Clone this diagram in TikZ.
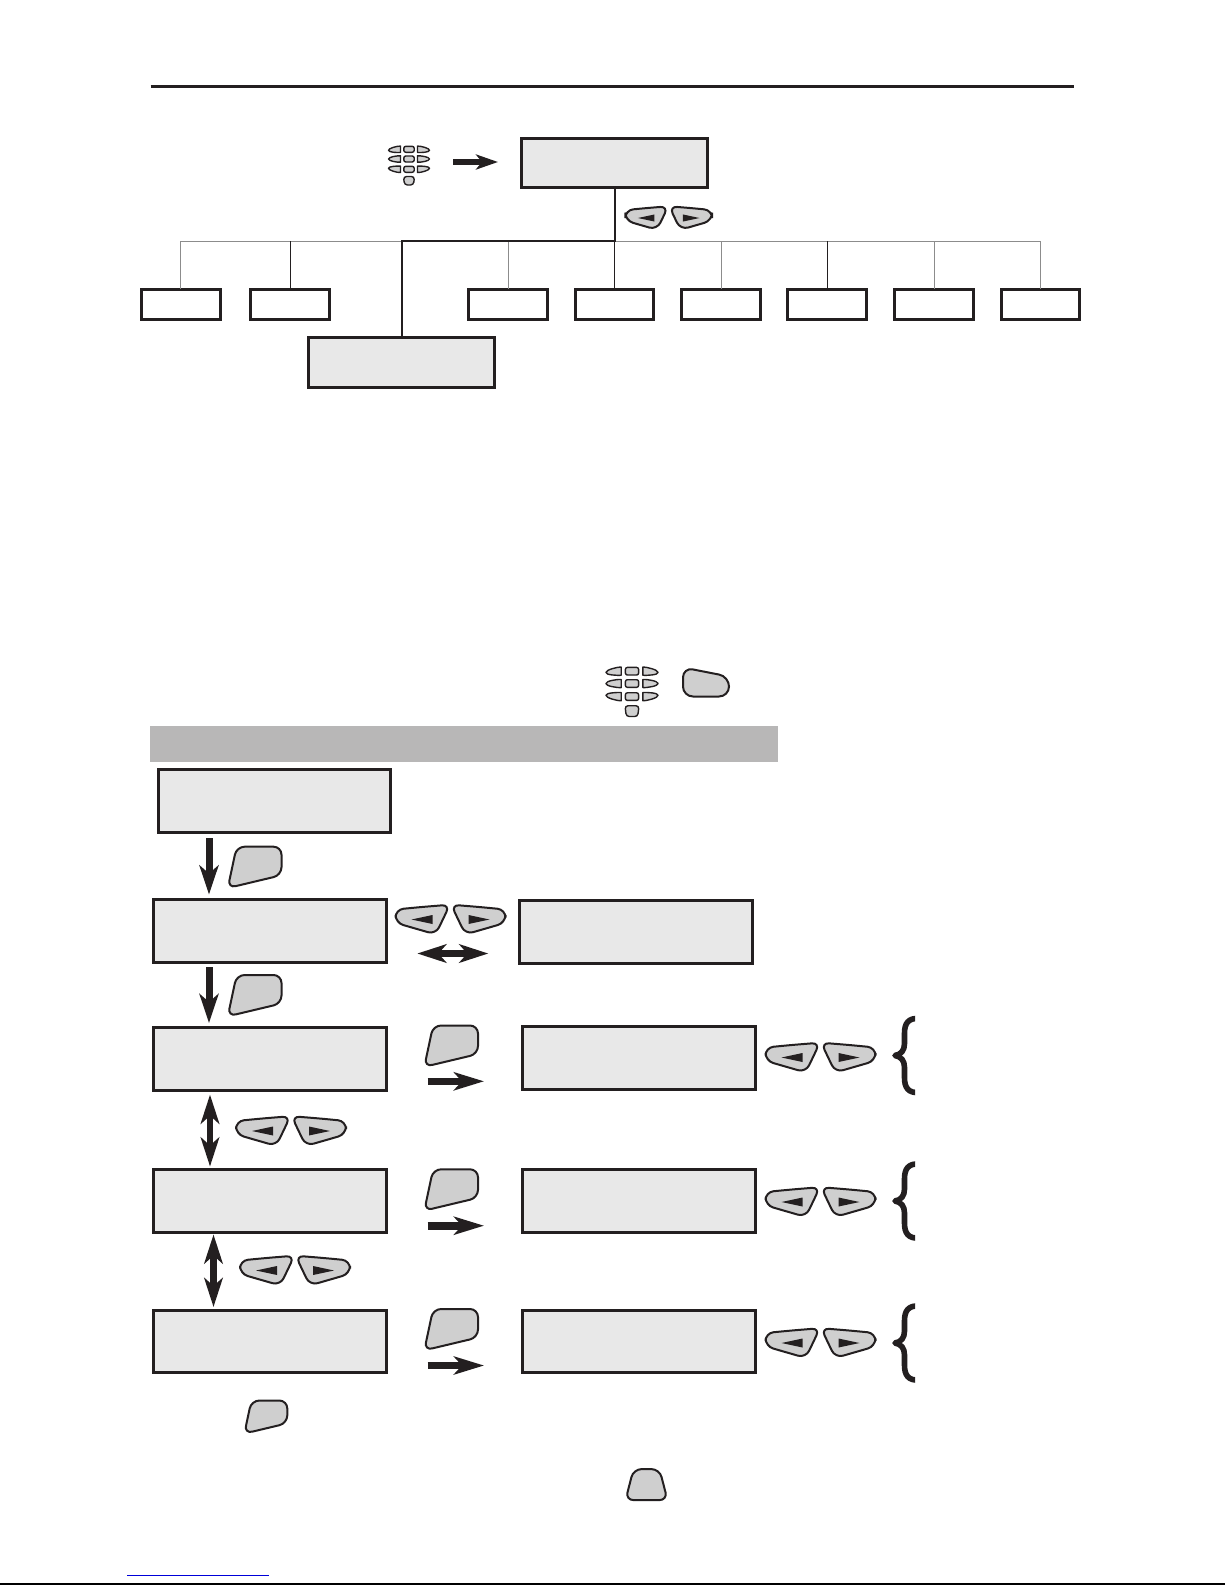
\documentclass[tikz,border=0pt]{standalone}
\usepackage{tikz}
\usetikzlibrary{arrows.meta}
\definecolor{ink}{HTML}{231F20}
\definecolor{lcdgrey}{HTML}{E8E8E8}
\definecolor{keygrey}{HTML}{CFCFCF}
\definecolor{bandgrey}{HTML}{B8B7B7}
\tikzstyle{lcdbox} = [rectangle, draw=ink, fill=lcdgrey, line width=1.5pt, inner sep=0pt, outer sep=0pt,
  minimum width=116.4pt, minimum height=31.2pt]
\tikzstyle{topbox} = [lcdbox, minimum width=93pt, minimum height=24.6pt]
\tikzstyle{leafbox} = [rectangle, draw=ink, fill=white, line width=1.5pt, inner sep=0pt, outer sep=0pt,
  minimum width=39.4pt, minimum height=15pt]
\tikzstyle{keyline} = [draw=ink, fill=keygrey, line width=1pt, rounded corners=4pt]
\tikzstyle{padkey} = [draw=ink, fill=keygrey, line width=.7pt, line join=round]
\tikzstyle{treegrey} = [draw=black!45, line width=.5pt]
\tikzstyle{treedark} = [draw=ink, line width=1pt]
\tikzstyle{dnarr} = [draw=ink, line width=3.5pt, -{Stealth[length=14.5pt,width=9.5pt,inset=4pt]}]
\tikzstyle{rtarr} = [draw=ink, line width=3.8pt, -{Stealth[length=15pt,width=9pt,inset=4pt]}]
\tikzstyle{smallarr} = [draw=ink, line width=2.6pt, -{Stealth[length=11pt,width=7.5pt,inset=3pt]}]
\tikzstyle{dblarr} = [draw=ink, line width=3.2pt, {Stealth[length=14.5pt,width=9.2pt,inset=4pt]}-{Stealth[length=14.5pt,width=9.2pt,inset=4pt]}]
\newcommand{\leftkeyshape}{
    \path [keyline] (0,-12.5) -- (28.4,-14.8) -- (14.2,14.9) -- (-26,3.3) -- (-26,-10) -- cycle;
    \fill [ink] (-10,0) -- (11,-4.5) -- (11,4.5) -- cycle;
}
\tikzset{
  lrkeys/.pic={
    \begin{scope}[shift={(-29,0)}]
      \leftkeyshape
    \end{scope}
    \begin{scope}[shift={(29,0)},xscale=-1]
      \leftkeyshape
    \end{scope}
  },
  enterkey/.pic={
    \path [keyline] (4,-20) -- (26,-20) -- (26,8.5) -- (-27.7,21.3) -- (-18.9,-20) -- cycle;
  },
  flatkey/.pic={
    \path [keyline, rounded corners=5pt] (0,14) -- (-23,14) -- (-23,-15) -- (23,-6) -- (23,14) -- cycle;
  },
  trapkey/.pic={
    \path [keyline] (0,15.5) -- (-21,15.5) -- (-13,-15.5) -- (13,-15.5) -- (21,15.5) -- cycle;
  },
  keypad/.pic={
    \foreach \ky/\ka in {-15.2/1,-5.5/0,4.8/-1} {
      \path [padkey, rounded corners=1pt] (-5.2,\ky-3) rectangle (5.2,\ky+3);
      \foreach \ks in {1,-1} {
        \begin{scope}[xscale=\ks]
          \path [padkey] (-8.5,\ky-3.2) .. controls (-12,\ky-3.4) and (-20.5,\ky+\ka-2) .. (-20.5,\ky+\ka)
            .. controls (-20.5,\ky+\ka+2) and (-12,\ky+3.4) .. (-8.5,\ky+3.2) -- cycle;
        \end{scope}
      }
    }
    \path [padkey, rounded corners=1.5pt] (0,12) -- (5.5,12) -- (4.5,20.5) -- (-4.5,20.5) -- (-5.5,12) -- cycle;
  },
}
\begin{document}
\begin{tikzpicture}[x=.5pt,y=-.5pt]

    \useasboundingbox (0,0) rectangle (1225,1585);

    % rules of the page
    \draw [ink, line width=1.5pt] (150.6,86) -- (1073.5,86);
    \draw [blue!85!black, line width=.5pt] (127,1575) -- (269,1575);
    \draw [black, line width=.8pt] (0,1584) -- (1225,1584);

    % menu tree
    \node [topbox] at (614.5,162.8) (menu) {};
    \node [topbox] at (401.7,362.5) (wide) {};
    \coordinate (hub) at (614.5,241);
    \coordinate (elbow) at (401.7,241);

    \foreach \lname/\lx in {leafa/180.8,leafb/290,leafc/508,leafd/614.5,leafe/721,leaff/827,leafg/934,leafh/1040.5}
      \node [leafbox] at (\lx,304.2) (\lname) {};

    \draw [treegrey] (leafa.north |- hub) -- (leafh.north |- hub);
    \foreach \lname in {leafa,leafc,leafe,leafg,leafh}
      \draw [treegrey] (\lname.north) -- (\lname.north |- hub);
    \foreach \lname in {leafb,leafd,leaff}
      \draw [draw=ink, line width=.5pt] (\lname.north) -- (\lname.north |- hub);
    \draw [treedark, line cap=round] (menu.south) -- (hub) -- (elbow) -- (wide.north);

    \pic at (409,164.5) {keypad};
    \coordinate (pada) at (453,162);
    \coordinate (padb) at (498,162);
    \draw [smallarr] (pada) -- (padb);
    \pic [scale=.79] at (668.7,218) {lrkeys};

    % band and second keypad
    \fill [bandgrey] (149.6,725.6) rectangle (778.3,761.8);
    \pic [scale=1.27] at (632,690.5) {keypad};
    \pic at (706,682.5) {flatkey};

    % left column
    \node [lcdbox] at (274.5,800.9) (boxa) {};
    \node [lcdbox] at (269.8,931) (boxb) {};
    \node [lcdbox] at (269.8,1058.8) (boxc) {};
    \node [lcdbox] at (269.8,1200.9) (boxd) {};
    \node [lcdbox] at (269.8,1341.4) (boxe) {};

    % right column
    \node [lcdbox] at (636.2,931.8) (boxf) {};
    \node [lcdbox] at (639,1057.8) (boxg) {};
    \node [lcdbox] at (639,1201) (boxh) {};
    \node [lcdbox] at (639,1341.7) (boxi) {};

    % arrows of the left column
    \coordinate (ab1) at (209,838);
    \coordinate (ab2) at (209,894.5);
    \coordinate (bc1) at (209,967);
    \coordinate (bc2) at (209,1023);
    \coordinate (cd1) at (210,1094.6);
    \coordinate (cd2) at (210,1166.5);
    \coordinate (de1) at (213.5,1234.5);
    \coordinate (de2) at (213.5,1307);
    \draw [dnarr] (ab1) -- (ab2);
    \draw [dnarr] (bc1) -- (bc2);
    \draw [dblarr] (cd1) -- (cd2);
    \draw [dblarr] (de1) -- (de2);

    % arrows between the columns
    \coordinate (bf1) at (417.3,953.5);
    \coordinate (bf2) at (488.3,953.5);
    \draw [dblarr] (bf1) -- (bf2);
    \foreach \rname/\ry in {cg/1081.3,dh/1225.7,ei/1365.5} {
      \coordinate (\rname1) at (427.7,\ry);
      \coordinate (\rname2) at (484,\ry);
      \draw [rtarr] (\rname1) -- (\rname2);
    }

    % keys
    \pic at (255.5,866.7) {enterkey};
    \pic at (255.5,995) {enterkey};
    \pic at (452,1045.5) {enterkey};
    \pic at (452,1189.3) {enterkey};
    \pic at (452,1329) {enterkey};
    \pic [scale=.8] at (266.5,1416.5) {enterkey};
    \pic at (646.5,1484.6) {trapkey};

    \pic at (450.5,919.5) {lrkeys};
    \pic at (291,1131) {lrkeys};
    \pic at (295,1270.5) {lrkeys};
    \foreach \ky in {1057.5,1202,1343}
      \pic at (820.5,\ky) {lrkeys};

    % braces
    \foreach \by in {1055.5,1201,1343} {
      \begin{scope}[shift={(0,\by)}]
        \clip (885,-45) rectangle (915,45);
        \draw [ink, line width=2.8pt, line join=round] (920,-37) .. controls (908,-38) and (904.5,-32) .. (904.5,-22) -- (904.5,-12)
          .. controls (904.5,-5) and (901,-1) .. (895,0) .. controls (901,1) and (904.5,5) .. (904.5,12) -- (904.5,22)
          .. controls (904.5,32) and (908,38) .. (920,37);
      \end{scope}
    }

\end{tikzpicture}
\end{document}
